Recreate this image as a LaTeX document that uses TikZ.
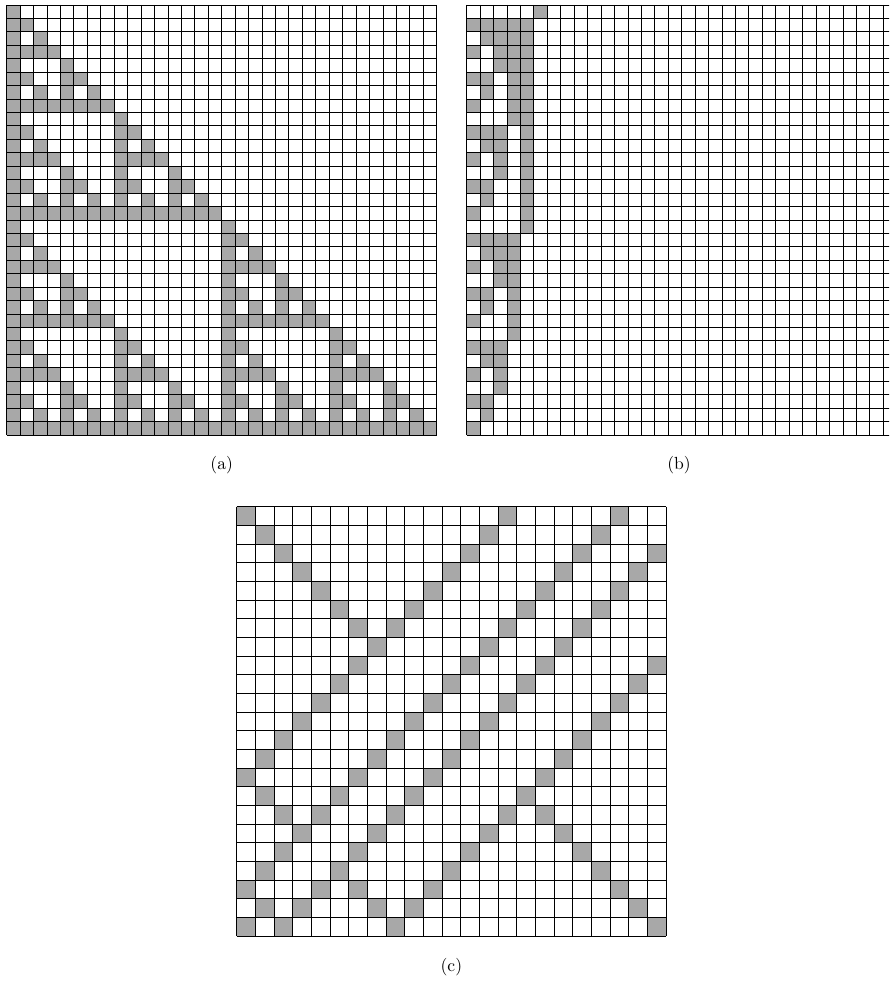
\documentclass[tikz,border=0pt]{standalone}
\usepackage{tikz}
\usetikzlibrary{positioning}
\tikzset{
    cell/.style={fill=black!34},
    gridline/.style={draw=black, line width=0.5pt},
    caption/.style={inner sep=0pt, font=\normalsize},
    declare function={bitok(\m,\n,\w)=1-mod(floor(\m/\w),2)*(1-mod(floor(\n/\w),2));},
}

\begin{document}
\begin{tikzpicture}[x=0.02cm, y=-0.02cm]
    \useasboundingbox (0,0) rectangle (889,983);
    \clip (0,0) rectangle (889,983);

    % (a) pascal triangle mod 2
    \begin{scope}[shift={(6.7,5)}, x=0.2688cm, y=-0.2688cm]
        \foreach \r in {0,...,31}
            \foreach \c in {0,...,\r}{
                \pgfmathtruncatemacro\odd{bitok(\c,\r,1)*bitok(\c,\r,2)*bitok(\c,\r,4)*bitok(\c,\r,8)*bitok(\c,\r,16)}
                \ifnum\odd=1 \fill[cell] (\c,\r) rectangle ++(1,1); \fi
            }
        \foreach \i in {0,...,32}{
            \draw[gridline] (\i,0) -- (\i,32);
            \draw[gridline] (0,\i) -- (32,\i);
        }
        \coordinate (abot) at (16,32);
    \end{scope}

    % (b) binary counting down
    \begin{scope}[shift={(466.7,5)}, x=0.2688cm, y=-0.2688cm]
        \foreach \r in {0,...,31}
            \foreach \c in {0,...,5}{
                \pgfmathtruncatemacro\bit{mod(floor((32-\r)/2^\c),2)}
                \ifnum\bit=1 \fill[cell] (\c,\r) rectangle ++(1,1); \fi
            }
        \foreach \i in {0,...,32}{
            \draw[gridline] (\i,0) -- (\i,32);
            \draw[gridline] (0,\i) -- (32,\i);
        }
        \coordinate (bbot) at (15.8,32);
    \end{scope}

    % (c) bouncing diagonals
    \begin{scope}[shift={(236.7,506.7)}, x=0.3734cm, y=-0.3734cm]
        \foreach \r/\cols in {0/{0,14,20}, 1/{1,13,19}, 2/{2,12,18,22}, 3/{3,11,17,21},
                4/{4,10,16,20}, 5/{5,9,15,19}, 6/{6,8,14,18}, 7/{7,13,17},
                8/{6,12,16,22}, 9/{5,11,15,21}, 10/{4,10,14,20}, 11/{3,9,13,19},
                12/{2,8,12,18}, 13/{1,7,11,17}, 14/{0,6,10,16}, 15/{1,5,9,15},
                16/{2,4,8,14,16}, 17/{3,7,13,17}, 18/{2,6,12,18}, 19/{1,5,11,19},
                20/{0,4,6,10,20}, 21/{1,3,7,9,21}, 22/{0,2,8,22}}
            \foreach \c in \cols
                \fill[cell] (\c,\r) rectangle ++(1,1);
        \foreach \i in {0,...,23}{
            \draw[gridline] (\i,0) -- (\i,23);
            \draw[gridline] (0,\i) -- (23,\i);
        }
        \coordinate (cbot) at (11.5,23);
    \end{scope}

    \node[caption, below=0.42cm of abot] (capa) {(a)};
    \node[caption, below=0.42cm of bbot] (capb) {(b)};
    \node[caption, below=0.44cm of cbot] (capc) {(c)};
\end{tikzpicture}
\end{document}
